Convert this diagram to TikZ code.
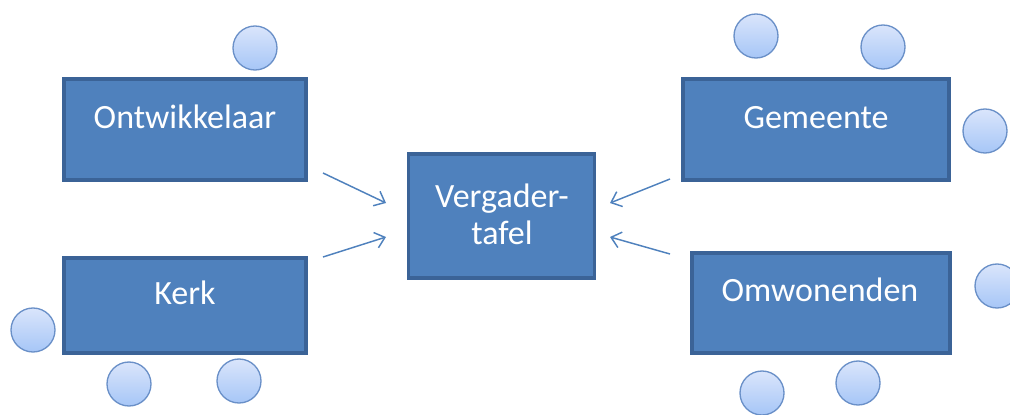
\documentclass[tikz,border=0pt]{standalone}
\usepackage{fontspec}
\setmainfont{Carlito}
\usetikzlibrary{arrows.meta}
\definecolor{boxfill}{HTML}{4F81BD}
\definecolor{boxline}{HTML}{3B6397}
\definecolor{seattop}{HTML}{DAE5FB}
\definecolor{seatbot}{HTML}{A6C6F7}
\definecolor{seatline}{HTML}{6A90C8}
\definecolor{arr}{HTML}{4F81BD}
\tikzset{
  box/.style={draw=boxline, line width=2.4pt, fill=boxfill, inner sep=0pt},
  lbl/.style={text=white, font=\fontsize{25.5}{30}\selectfont, inner sep=0pt, align=center},
  seat/.style={circle, draw=seatline, line width=1pt, top color=seattop, bottom color=seatbot, minimum size=33pt, inner sep=0pt},
  conn/.style={draw=arr, line width=1.1pt, -{Straight Barb[length=7pt,width=12pt,line width=1.1pt]}}
}
\begin{document}
\begin{tikzpicture}[x=0.75pt,y=-0.75pt]
\useasboundingbox (0,0) rectangle (1010,414);
% boxes
\node[box, minimum width=181.5pt, minimum height=75.75pt] (ont) at (185,129.5) {};
\node[lbl] (ontT) at (185,117) {Ontwikkelaar};
\node[box, minimum width=181.5pt, minimum height=71.25pt] (kerk) at (185,305.5) {};
\node[lbl] (kerkT) at (185,293) {Kerk};
\node[box, minimum width=140pt, minimum height=93pt] (tafel) at (501.5,216) {};
\node[lbl] (tafelT) at (502,214) {Vergader-\\[-2pt]tafel};
\node[box, minimum width=199.5pt, minimum height=75.75pt] (gem) at (816,129.5) {};
\node[lbl] (gemT) at (816,118) {Gemeente};
\node[box, minimum width=193.5pt, minimum height=75pt] (omw) at (821,303) {};
\node[lbl] (omwT) at (820,290) {Omwonenden};
% seats
\node[seat] (s1) at (255,48) {};
\node[seat] (s2) at (33,330) {};
\node[seat] (s3) at (129,384) {};
\node[seat] (s4) at (239,381) {};
\node[seat] (s5) at (756,36) {};
\node[seat] (s6) at (883,47) {};
\node[seat] (s7) at (985,131) {};
\node[seat] (s8) at (997,286) {};
\node[seat] (s9) at (762,393) {};
\node[seat] (s10) at (858,383) {};
% connectors
\coordinate (a1) at (323,173);
\coordinate (a2) at (323,257);
\coordinate (a3) at (670,179);
\coordinate (a4) at (670,254);
\coordinate (b1) at (386,203);
\coordinate (b2) at (386,237);
\coordinate (b3) at (610,203);
\coordinate (b4) at (610,237);
\draw[conn] (a1) -- (b1);
\draw[conn] (a2) -- (b2);
\draw[conn] (a3) -- (b3);
\draw[conn] (a4) -- (b4);
\end{tikzpicture}
\end{document}
